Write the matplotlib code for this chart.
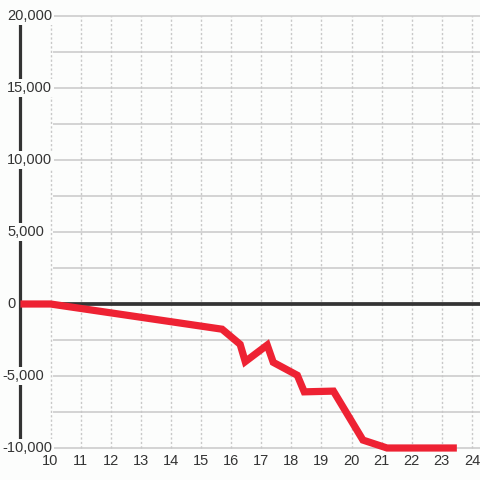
import matplotlib
matplotlib.use("Agg")
import matplotlib.pyplot as plt
from matplotlib.transforms import blended_transform_factory

# ---- data ----
x_vals = [9, 10, 15.7, 16.3, 16.47, 17.2, 17.4, 18.2, 18.43, 19.4, 20.38, 21.18, 23.5]
y_vals = [0, 0, -1750, -2800, -4000, -2850, -4050, -4950, -6100, -6050, -9450, -10000, -10000]
x_ticks = list(range(10, 25))
y_ticks = [-10000, -5000, 0, 5000, 10000, 15000, 20000]
y_minor = [-7500, -2500, 2500, 7500, 12500, 17500]
y_tick_labels = ["-10,000", "-5,000", "0", "5,000", "10,000", "15,000", "20,000"]

BG = "#fcfdfc"
TXT = "#333333"
GRID = "#c8c8c8"
RED = "#ee2233"

plt.rcParams['font.family'] = ['Liberation Sans', 'DejaVu Sans']

fig = plt.figure(figsize=(4.8, 4.8), dpi=100, facecolor=BG)
ax = fig.add_axes([0, 0, 1, 1])
ax.set_facecolor(BG)
ax.axis('off')

px_per_x = 30.1
x0_px = 50.5
xmin = 10 - x0_px / px_per_x
xmax = 10 + (480 - x0_px) / px_per_x
px_per_y = 14.4 / 1000
ymax = 20000 + 16 / px_per_y
ymin = -10000 - 32 / px_per_y
ax.set_xlim(xmin, xmax)
ax.set_ylim(ymin, ymax)

# horizontal grid
for yv in y_ticks + y_minor:
    ax.plot([10.07, xmax], [yv, yv], color=GRID, lw=1.1, zorder=1, solid_capstyle='butt')
# vertical dotted grid
for xv in x_ticks:
    ax.plot([xv, xv], [-10000, 20000], color=GRID, lw=1.0, ls=(0, (1.6, 1.6)), zorder=1)

# zero line
ax.plot([9, xmax], [0, 0], color=TXT, lw=2.7, zorder=2, solid_capstyle='butt')
# left axis line
ax.plot([9, 9], [-10000, 20000], color=TXT, lw=2.3, zorder=2, solid_capstyle='butt')

# data line
ax.plot(x_vals, y_vals, color=RED, lw=5.2, zorder=4,
        solid_joinstyle='miter', solid_capstyle='butt')

# y tick labels
trans = blended_transform_factory(fig.transFigure, ax.transData)
for yv, lab in zip(y_ticks, y_tick_labels):
    xpos = 7 / 480
    if lab.startswith('-'):
        xpos = 2 / 480
    ax.text(xpos, yv, lab, transform=trans, ha='left', va='center',
            fontsize=10.5, color=TXT, zorder=5,
            bbox=dict(facecolor=BG, edgecolor='none', pad=1.2))

# x tick labels
for xv in x_ticks:
    ax.text(xv, -10000 - 13 / px_per_y, str(xv), ha='center', va='center',
            fontsize=10.5, color=TXT, zorder=5)

fig.savefig("out.png", dpi=100, facecolor=BG)
